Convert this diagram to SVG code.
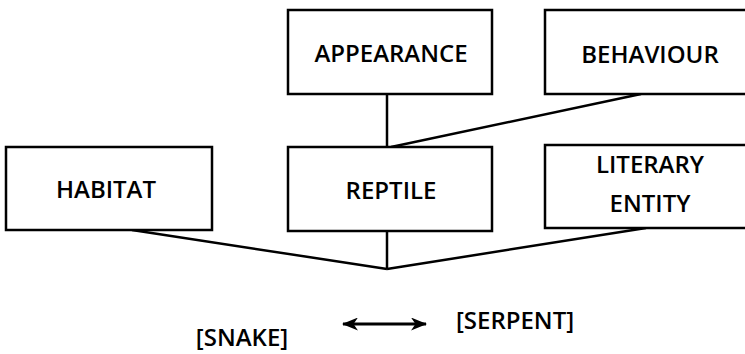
<svg xmlns="http://www.w3.org/2000/svg" width="745" height="354" viewBox="0 0 745 354">
  <defs>
    <style>
      .box { fill: #ffffff; stroke: #000000; stroke-width: 2.5; }
      .lbl { font-family: "Open Sans", "Liberation Sans", sans-serif; font-size: 24px; font-weight: 600; fill: #000000; text-anchor: middle; }
      .link { fill: none; stroke: #000000; stroke-width: 2.5; }
      .pair { fill: none; stroke: #000000; stroke-width: 3; }
    </style>
    <marker id="head" viewBox="0 0 16 13" refX="15" refY="6.5" markerWidth="16" markerHeight="13" markerUnits="userSpaceOnUse" orient="auto-start-reverse">
      <path d="M0,0 L16,6.5 L0,13 L4.5,6.5 Z" fill="#000000"/>
    </marker>
  </defs>
  <rect width="745" height="354" fill="#ffffff"/>

  <!-- connectors -->
  <g id="connectors">
    <line class="link" x1="387" y1="94" x2="387" y2="147"/>
    <line class="link" x1="641" y1="94" x2="391" y2="147"/>
    <line class="link" x1="387" y1="231" x2="387" y2="269"/>
    <line class="link" x1="132" y1="230" x2="387" y2="269"/>
    <line class="link" x1="646" y1="228" x2="387" y2="269"/>
    <line class="pair" x1="343" y1="324" x2="426" y2="324" marker-start="url(#head)" marker-end="url(#head)"/>
  </g>

  <g id="appearance">
    <rect class="box" x="288" y="10" width="204" height="84"/>
    <text class="lbl" x="391" y="62">APPEARANCE</text>
  </g>
  <g id="behaviour">
    <rect class="box" x="545" y="10" width="210" height="84"/>
    <text class="lbl" x="650" y="63">BEHAVIOUR</text>
  </g>
  <g id="habitat">
    <rect class="box" x="6" y="147" width="206" height="83"/>
    <text class="lbl" x="106" y="198">HABITAT</text>
  </g>
  <g id="reptile">
    <rect class="box" x="288" y="147" width="204" height="84"/>
    <text class="lbl" x="391" y="199">REPTILE</text>
  </g>
  <g id="literary-entity">
    <rect class="box" x="545" y="145" width="210" height="83"/>
    <text class="lbl" x="650" y="173">LITERARY</text>
    <text class="lbl" x="650" y="212">ENTITY</text>
  </g>

  <g id="snake">
    <text class="lbl" x="242" y="346">[SNAKE]</text>
  </g>
  <g id="serpent">
    <text class="lbl" x="515" y="329">[SERPENT]</text>
  </g>
</svg>
